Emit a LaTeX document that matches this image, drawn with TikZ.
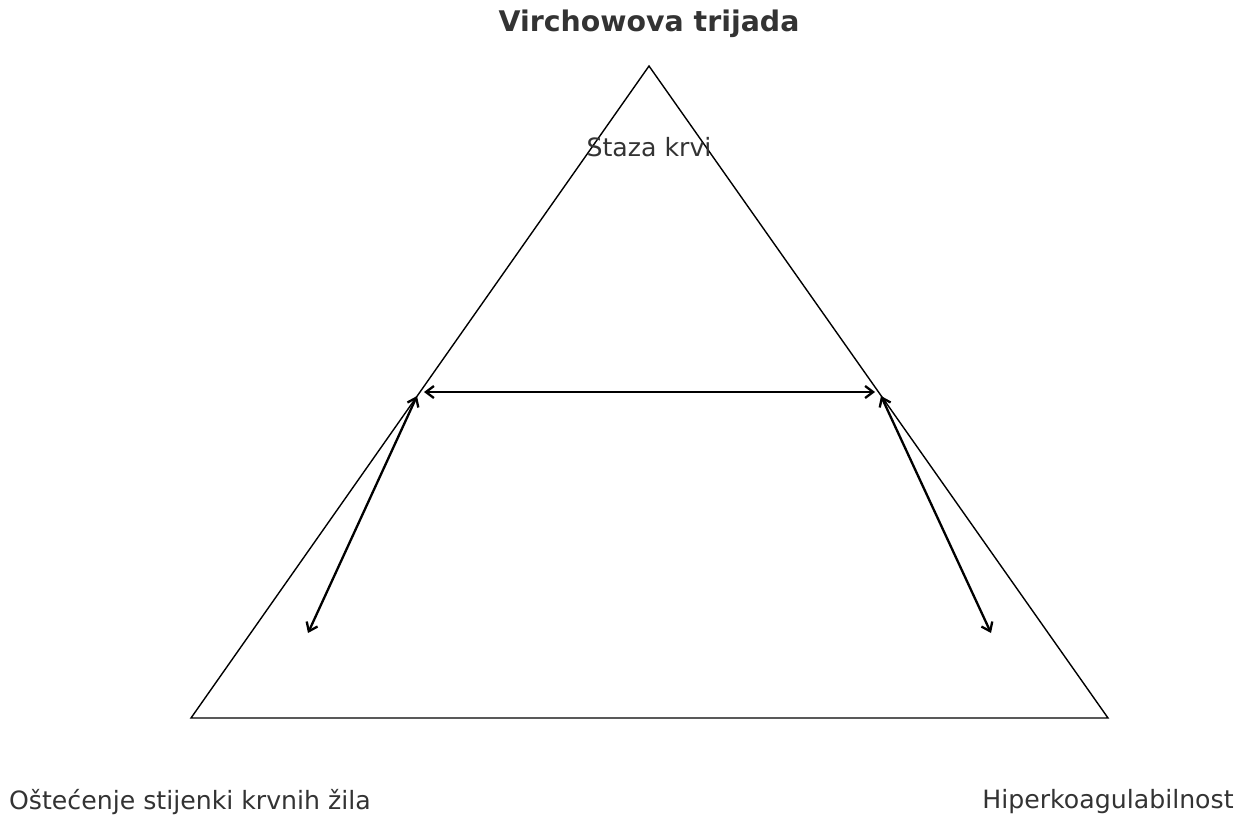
\documentclass[tikz,border=0pt]{standalone}
\usepackage{fontspec}
\setmainfont{DejaVu Sans}
\usetikzlibrary{arrows.meta}
\definecolor{txtgray}{HTML}{333333}

\begin{document}
\begin{tikzpicture}[x=0.5pt, y=-0.5pt,
        lbl/.style={text=txtgray, font=\fontsize{12.6}{14}\selectfont, inner sep=0pt},
        ttl/.style={text=txtgray, font=\bfseries\fontsize{14.2}{16}\selectfont, inner sep=0pt},
        side/.style={line width=0.7pt},
        link/.style={line width=1.15pt, {Straight Barb[length=4pt,width=6pt]}-{Straight Barb[length=4pt,width=6pt]}}]
        \useasboundingbox (0, 0) rectangle (1246, 814);

        \coordinate (top) at (649, 66);
        \coordinate (left) at (191, 718);
        \coordinate (right) at (1108, 718);

        \coordinate (a1) at (424, 392);
        \coordinate (a2) at (875, 392);
        \coordinate (b1) at (417, 396);
        \coordinate (b2) at (308, 633);
        \coordinate (c1) at (881, 396);
        \coordinate (c2) at (991, 633);

        \draw[side] (top) -- (left) -- (right) -- cycle;

        \draw[link] (a1) -- (a2);
        \draw[link] (b1) -- (b2);
        \draw[link] (c1) -- (c2);

        \node[ttl] (title) at (649, 24) {Virchowova trijada};
        \node[lbl] (stasis) at (649, 147) {Staza krvi};
        \node[lbl] (injury) at (190, 802) {Oštećenje stijenki krvnih žila};
        \node[lbl] (hyper) at (1108, 802) {Hiperkoagulabilnost};
    \end{tikzpicture}
\end{document}
